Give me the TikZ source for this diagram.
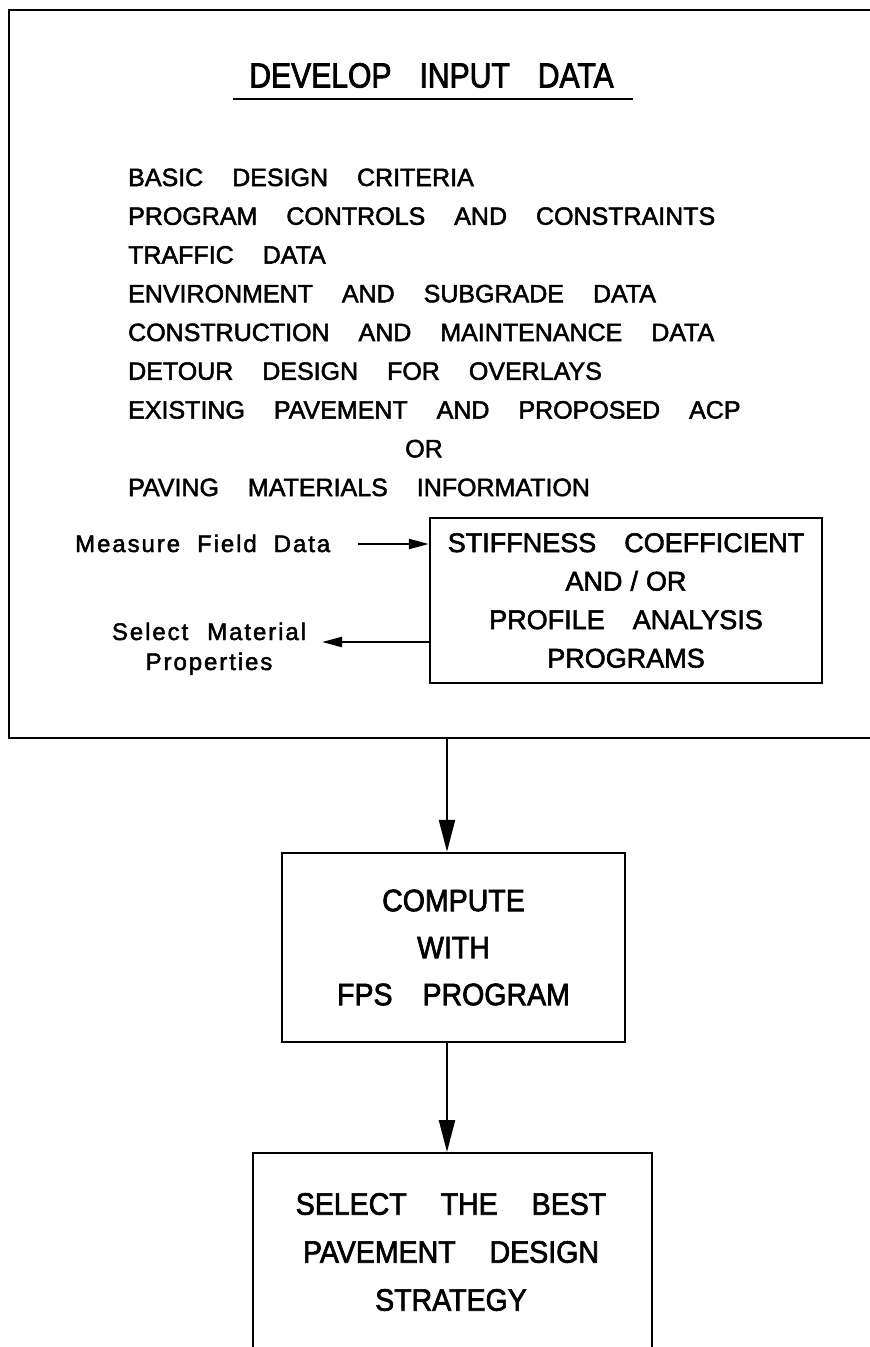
\documentclass[tikz,border=0pt]{standalone}
\usepackage{fontspec}
\setmainfont{Liberation Sans}[FakeBold=2]
\newfontfamily\fTitle{Liberation Sans}[FakeStretch=0.86,FakeBold=2.2]
\newfontfamily\fBox{Liberation Sans}[FakeStretch=0.92,FakeBold=2.2]
\newfontfamily\fLow{Liberation Sans}[LetterSpace=8,FakeBold=2]
\newcommand\wsp[1]{\spaceskip=#1\relax}
\usetikzlibrary{arrows.meta}
\tikzset{
  frame/.style={draw, line width=2.4pt, inner sep=0pt},
  listline/.style={anchor=base west, inner sep=0pt,
    font=\fontsize{25}{30}\selectfont},
  lowtext/.style={inner sep=0pt,
    font=\fLow\fontsize{24}{30}\selectfont},
  varr/.style={line width=2.4pt, -{Triangle[length=32pt,width=16pt]}},
  harr/.style={line width=2.2pt, -{Triangle[length=20pt,width=10pt]}},
}
\begin{document}
\begin{tikzpicture}[x=1pt,y=-1pt]
\useasboundingbox (0,0) rectangle (870,1347);
\clip (0,0) rectangle (870,1347);
\fill[white] (0,0) rectangle (870,1347);
% outer frame
\node[frame, anchor=north west, minimum width=900pt, minimum height=728pt] (big) at (8,9) {};
% title
\node[anchor=base, inner sep=0pt,
  font=\fTitle\fontsize{35}{40}\selectfont] (title) at (431.5,87.5) {\wsp{28pt}DEVELOP INPUT DATA};
\draw[line width=2.4pt] (233,99) -- (633,99);
% list
\node[listline] (l1) at (128,186) {\wsp{29pt}BASIC DESIGN CRITERIA};
\node[listline] (l2) at (128,224.75) {\wsp{29pt}PROGRAM CONTROLS AND CONSTRAINTS};
\node[listline] (l3) at (128,263.5) {\wsp{29pt}TRAFFIC DATA};
\node[listline] (l4) at (128,302.25) {\wsp{29pt}ENVIRONMENT AND SUBGRADE DATA};
\node[listline] (l5) at (128,341) {\wsp{29pt}CONSTRUCTION AND MAINTENANCE DATA};
\node[listline] (l6) at (128,379.75) {\wsp{29pt}DETOUR DESIGN FOR OVERLAYS};
\node[listline] (l7) at (128,418.5) {\wsp{29pt}EXISTING PAVEMENT AND PROPOSED ACP};
\node[listline, anchor=base] (lor) at (424,457.25) {OR};
\node[listline] (l8) at (128,496) {\wsp{29pt}PAVING MATERIALS INFORMATION};
% stiffness box
\node[frame, minimum width=392pt, minimum height=165pt, align=center,
  font=\fontsize{27}{38.5}\selectfont] (stiff) at (626,600.5)
  {\wsp{28pt}STIFFNESS COEFFICIENT\\AND\hspace{8pt}/\hspace{8pt}OR\\\wsp{28pt}PROFILE ANALYSIS\\PROGRAMS};
\node[lowtext, anchor=base west] (mfd) at (75,552) {\wsp{17pt}Measure Field Data};
\node[lowtext, anchor=base] (sm1) at (209,640) {\wsp{19pt}Select Material};
\node[lowtext, anchor=base] (sm2) at (209,670) {Properties};
\coordinate (mfdend) at (358,544);
\coordinate (smend) at (322,642);
\draw[harr] (mfdend) -- (mfdend -| stiff.west);
\draw[harr] (smend -| stiff.west) -- (smend);
% compute box
\node[frame, minimum width=343pt, minimum height=189pt, align=center,
  font=\fBox\fontsize{31}{47}\selectfont] (comp) at (453.5,947.5)
  {COMPUTE\\WITH\\\wsp{30pt}FPS PROGRAM};
% select box
\node[frame, anchor=north, minimum width=399pt, minimum height=240pt] (selbox) at (452.5,1152) {};
\node[inner sep=0pt, align=center,
  font=\fBox\fontsize{31}{48}\selectfont] (seltxt) at (451,1252)
  {\wsp{34pt}SELECT THE BEST\\\wsp{34pt}PAVEMENT DESIGN\\STRATEGY};
% connectors
\coordinate (axis) at (447,0);
\draw[varr] (big.south -| axis) -- (comp.north -| axis);
\draw[varr] (comp.south -| axis) -- (selbox.north -| axis);
\end{tikzpicture}
\end{document}
